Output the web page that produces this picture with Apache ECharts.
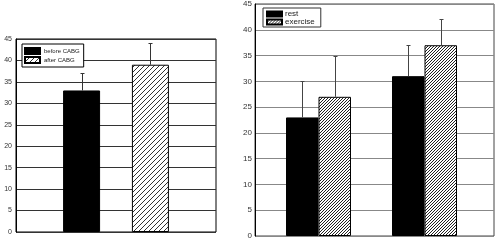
<!DOCTYPE html>
<html>
<head>
<meta charset="utf-8">
<script src="https://cdn.jsdelivr.net/npm/echarts@6/dist/echarts.min.js"></script>
<style>html,body{margin:0;padding:0;background:#fff}#c{width:500px;height:242px}</style>
</head>
<body>
<div id="c"></div>
<script>
// ---- data ----
const leftCategories = ['CABG'];
const leftNames = ['before CABG', 'after CABG'];
const beforeCABG = [33];
const beforeCABGErr = [4];
const afterCABG = [39];
const afterCABGErr = [5];

const rightCategories = ['group 1', 'group 2'];
const rightNames = ['rest', 'exercise'];
const rest = [23, 31];
const restErr = [7, 6];
const exercise = [27, 37];
const exerciseErr = [8, 5];

const yMin = 0, yMax = 45, yStep = 5;

// ---- styles ----
const FONT = 'Liberation Sans';
function hatch(size, color) {
  const c = document.createElement('canvas');
  c.width = c.height = size;
  const g = c.getContext('2d');
  g.fillStyle = '#fff'; g.fillRect(0, 0, size, size);
  g.strokeStyle = color; g.lineWidth = 1;
  g.beginPath();
  g.moveTo(0, size); g.lineTo(size, 0);
  g.moveTo(-1, 1); g.lineTo(1, -1);
  g.moveTo(size - 1, size + 1); g.lineTo(size + 1, size - 1);
  g.stroke();
  return { image: c, repeat: 'repeat' };
}
const leftBW = 37, leftGap = 0.86;
const rightBW = 32.5, rightGap = 0;
function offsets(bw, gap, n) {
  const total = n * bw + (n - 1) * bw * gap;
  const r = [];
  for (let i = 0; i < n; i++) r.push(-total / 2 + i * bw * (1 + gap) + bw / 2);
  return r;
}
const leftOff = offsets(leftBW, leftGap, 2);
const rightOff = offsets(rightBW, rightGap, 2);

function errData(vals, errs, si) {
  return vals.map((v, i) => [i, v, errs[i], si]);
}
function errRender(off, color) {
  return function (params, api) {
    const ci = api.value(0), v = api.value(1), e = api.value(2), si = api.value(3);
    const b = api.coord([ci, v]);
    const t = api.coord([ci, v + e]);
    const x = Math.round(b[0] + off[si]) + 0.5;
    const yt = Math.round(t[1]) + 0.5;
    return {
      type: 'group',
      children: [
        { type: 'line', shape: { x1: x, y1: b[1], x2: x, y2: yt }, style: { stroke: color, lineWidth: 1 } },
        { type: 'line', shape: { x1: x - 2, y1: yt, x2: x + 2, y2: yt }, style: { stroke: color, lineWidth: 1 } }
      ]
    };
  };
}

function yAxis(gridIndex, show, fontSize, lineColor, margin) {
  return {
    type: 'value', gridIndex, min: yMin, max: yMax, interval: yStep,
    show,
    axisLine: { show: true, lineStyle: { color: '#000', width: 1 } },
    axisTick: { show: false },
    axisLabel: { show, fontSize, color: '#333', fontFamily: FONT, margin },
    splitLine: { show, lineStyle: { color: lineColor, width: 1 } }
  };
}
function xAxis(gridIndex, data) {
  return {
    type: 'category', gridIndex, data, show: false,
    axisLine: { show: false }, axisTick: { show: false }, axisLabel: { show: false }
  };
}

const leftHatch = hatch(5, '#333');
const rightHatch = hatch(3, '#222');

const option = {
  animation: false,
  backgroundColor: '#fff',
  grid: [
    { left: 16, top: 39, width: 200, height: 193, show: true, borderColor: '#000', borderWidth: 1, containLabel: false },
    { left: 255, top: 4, width: 239, height: 232, show: true, borderColor: '#444', borderWidth: 1, containLabel: false },
    { left: 265.5, top: 4, width: 212, height: 232, show: false, containLabel: false }
  ],
  xAxis: [xAxis(0, leftCategories), xAxis(1, rightCategories), xAxis(2, rightCategories)],
  yAxis: [
    yAxis(0, true, 7, '#333', 4),
    yAxis(1, true, 8, '#888', 3),
    yAxis(2, false, 8, '#888', 3)
  ],
  legend: [
    {
      data: leftNames, orient: 'vertical', left: 22, top: 44,
      itemWidth: 15, itemHeight: 6, itemGap: 1, icon: 'rect',
      padding: [3, 4, 3, 2], borderColor: '#000', borderWidth: 1, backgroundColor: '#fff',
      textStyle: { fontSize: 6, fontFamily: FONT, color: '#222', lineHeight: 8, padding: [0, 0, 0, -1] },
      selectedMode: false
    },
    {
      data: rightNames, orient: 'vertical', left: 263, top: 8,
      itemWidth: 15, itemHeight: 5, itemGap: 0, icon: 'rect',
      padding: [2, 6, 1, 3], borderColor: '#333', borderWidth: 1, backgroundColor: '#fff',
      textStyle: { fontSize: 8, fontFamily: FONT, color: '#222', lineHeight: 8, padding: [0, 0, 0, -2] },
      selectedMode: false
    }
  ],
  series: [
    { name: leftNames[0], type: 'bar', xAxisIndex: 0, yAxisIndex: 0, data: beforeCABG,
      barWidth: leftBW, barGap: (leftGap * 100) + '%',
      itemStyle: { color: '#000', borderColor: '#000', borderWidth: 1 } },
    { name: leftNames[1], type: 'bar', xAxisIndex: 0, yAxisIndex: 0, data: afterCABG,
      barWidth: leftBW, barGap: (leftGap * 100) + '%',
      itemStyle: { color: leftHatch, borderColor: '#000', borderWidth: 1 } },
    { type: 'custom', xAxisIndex: 0, yAxisIndex: 0, z: 5,
      data: errData(beforeCABG, beforeCABGErr, 0).concat(errData(afterCABG, afterCABGErr, 1)),
      encode: { x: 0, y: 1 }, renderItem: errRender(leftOff, '#333') },

    { name: rightNames[0], type: 'bar', xAxisIndex: 2, yAxisIndex: 2, data: rest,
      barWidth: rightBW, barGap: '0%',
      itemStyle: { color: '#000', borderColor: '#000', borderWidth: 1 } },
    { name: rightNames[1], type: 'bar', xAxisIndex: 2, yAxisIndex: 2, data: exercise,
      barWidth: rightBW, barGap: '0%',
      itemStyle: { color: rightHatch, borderColor: '#000', borderWidth: 1 } },
    { type: 'custom', xAxisIndex: 2, yAxisIndex: 2, z: 5,
      data: errData(rest, restErr, 0).concat(errData(exercise, exerciseErr, 1)),
      encode: { x: 0, y: 1 }, renderItem: errRender(rightOff, '#444') }
  ]
};
const chart = echarts.init(document.getElementById('c'), null, { renderer: 'canvas' });
chart.setOption(option);
</script>
</body>
</html>
